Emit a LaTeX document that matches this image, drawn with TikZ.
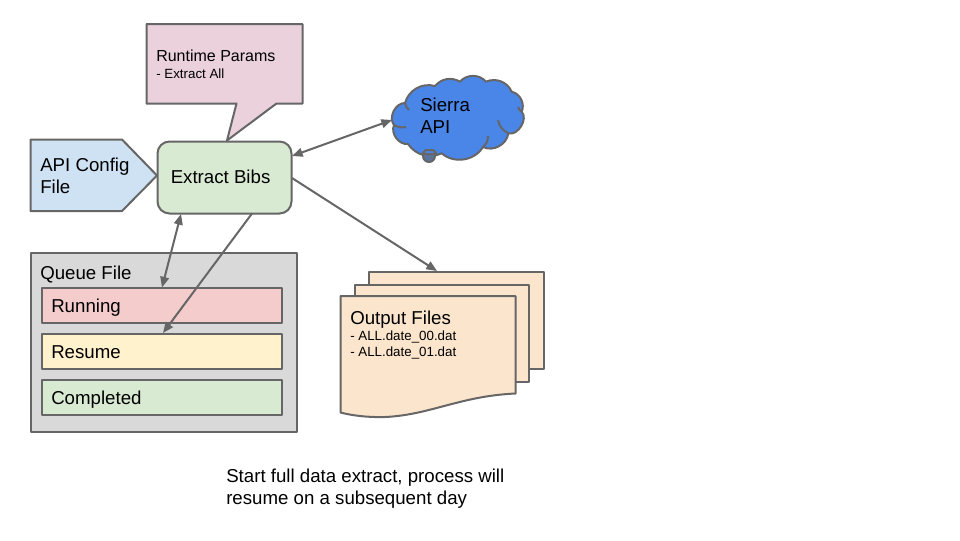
\documentclass[tikz,border=0pt]{standalone}
\usepackage{fontspec}
\setmainfont{Liberation Sans}
\usetikzlibrary{arrows.meta}
\definecolor{edge}{HTML}{666666}
\definecolor{cfgblue}{HTML}{CFE2F3}
\definecolor{mint}{HTML}{D9EAD3}
\definecolor{rosy}{HTML}{EAD1DC}
\definecolor{redish}{HTML}{F4CCCC}
\definecolor{butter}{HTML}{FFF2CC}
\definecolor{peach}{HTML}{FCE5CD}
\definecolor{grayq}{HTML}{D9D9D9}
\definecolor{skyb}{HTML}{4A86E8}
\tikzset{
  x=0.75pt,y=-0.75pt,
  shp/.style={draw=edge,line width=1.5pt,line join=round,outer sep=0pt},
  lbl/.style={anchor=north west,inner sep=0pt,align=left,text=black,font=\fontsize{14}{16.5}\selectfont},
  box/.style={shp,anchor=north west,minimum width=180pt,minimum height=26.25pt,inner sep=0pt},
  conn/.style={draw=edge,line width=1.5pt,-{Triangle[length=8pt,width=6.5pt]}},
  conn2/.style={draw=edge,line width=1.5pt,{Triangle[length=8pt,width=6.5pt]}-{Triangle[length=8pt,width=6.5pt]}},
}
\begin{document}
\begin{tikzpicture}
\useasboundingbox (0,0) rectangle (960,540);
% queue
\node[shp,fill=grayq,anchor=north west,minimum width=199.5pt,minimum height=134.5pt,inner sep=0pt] (queue) at (30.5,252.5) {};
\node[lbl] (queuet) at (40,266) {Queue File};
\node[box,fill=redish] (running) at (41.5,288) {};
\node[box,fill=butter] (resume) at (41.5,334) {};
\node[box,fill=mint] (completed) at (41.5,380) {};
\node[lbl] (runningt) at (51,299) {Running};
\node[lbl] (resumet) at (51,345) {Resume};
\node[lbl] (completedt) at (51,391) {Completed};
% callout
\draw[shp,fill=rosy] (146.5,24) -- (302.5,24) -- (302.5,103.5) -- (276.5,103.5) -- (227,140.5) -- (236.5,103.5) -- (146.5,103.5) -- cycle;
\node[lbl,font=\fontsize{12}{14}\selectfont] (params) at (156,50) {Runtime Params};
\node[lbl,font=\fontsize{10}{12}\selectfont] (paramsb) at (156,69) {- Extract All};
% pentagon
\draw[shp,fill=cfgblue] (30.5,139.5) -- (122,139.5) -- (157,175.5) -- (122,211) -- (30.5,211) -- cycle;
\node[lbl] (cfg) at (40,158) {API Config\\File};
% extract
\node[shp,fill=mint,rounded corners=9pt,anchor=north west,minimum width=100.5pt,minimum height=54pt,inner sep=0pt] (extract) at (157.5,141.5) {};
\node[lbl] (extractt) at (170.5,170) {Extract Bibs};
% cloud
\draw[shp,fill=skyb] (394,125) to[bend left=65] (405,103) to[bend left=45] (435,86) to[bend left=40] (460,81.7) to[bend left=50] (486,81.7) to[bend left=45] (511.7,91.7) to[bend left=50] (521.7,111.7) to[bend left=75] (508.3,133.3) to[bend left=55] (483,147) to[bend left=50] (441.7,153.3) to[bend left=40] (408,144) to[bend left=60] (394,125) -- cycle;
\draw[shp] (394,125) to[bend right=20] (406,127);
\draw[shp] (405,103) to[bend right=20] (409,110);
\draw[shp] (508.3,133.3) to[bend left=25] (498,120);
\draw[shp] (483,147) to[bend right=25] (488,136);
\draw[shp] (521.7,111.7) to[bend left=20] (518,107);
\draw[shp,fill=skyb!40!edge] (429,156) circle[radius=6];
\draw[shp,fill=skyb] (429.5,150) to[bend left=50] (436,153) to[bend left=20] (423,153) to[bend left=50] (429.5,150);
\node[lbl] (sierra) at (420,98) {Sierra\\API};
% documents
\draw[shp,fill=peach] (368.5,272) -- (543.5,272) -- (543.5,369) -- (368.5,369) -- cycle;
\draw[shp,fill=peach] (355,284.5) -- (529,284.5) -- (529,382) -- (355,382) -- cycle;
\draw[shp,fill=peach] (340.5,296) -- (515.5,296) -- (515.5,393.5) .. controls (460,396) and (430,415) .. (385,417) .. controls (365,417.5) and (350,415) .. (340.5,412.5) -- cycle;
\coordinate (outin) at (437,271);
\node[lbl] (outt) at (350,311) {Output Files};
\node[lbl,font=\fontsize{10}{12}\selectfont] (outa) at (350,331) {- ALL.date\_00.dat\\- ALL.date\_01.dat};
% footer
\node[lbl] (foot) at (226,469) {Start full data extract, process will\\resume on a subsequent day};
% connectors
\coordinate (exa) at (292,156);
\coordinate (sk) at (392,120);
\coordinate (exb) at (292,178);
\coordinate (exc) at (252,213.5);
\coordinate (resin) at (163,333);
\coordinate (exd) at (181,214);
\coordinate (runin) at (162,287.5);
\draw[conn2] (exa) -- (sk);
\draw[conn] (exb) -- (outin);
\draw[conn] (exc) -- (resin);
\draw[conn2] (exd) -- (runin);
\end{tikzpicture}
\end{document}
